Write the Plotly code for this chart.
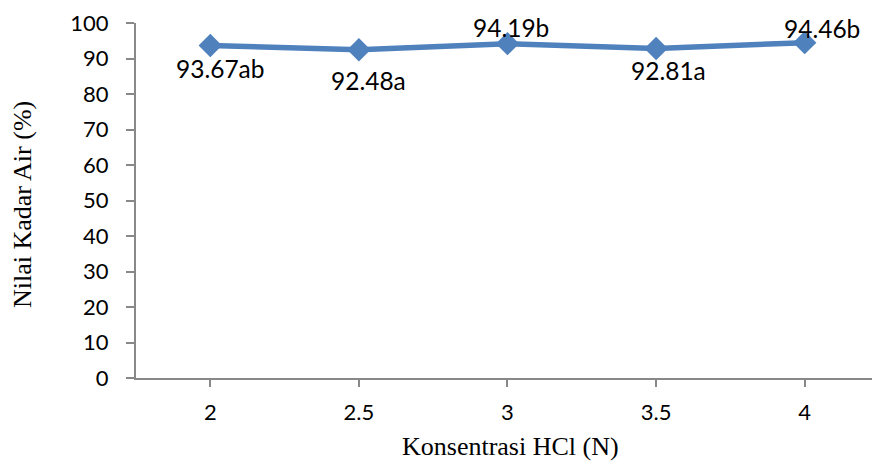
import plotly.graph_objects as go

# Kadar air vs konsentrasi HCl
konsentrasi = ["2", "2.5", "3", "3.5", "4"]
kadar_air = [93.67, 92.48, 94.19, 92.81, 94.46]
notasi = ["ab", "a", "b", "a", "b"]
# label offsets in pixels (x to the right, y upward)
label_dx = [10, 10, 4, 12, 17]
label_dy = [-23, -31, 16, -22, 14]

line_color = "#4F81BD"
axis_color = "#888888"
serif = "Liberation Serif"
sans = "Lato"

fig = go.Figure()
fig.add_trace(go.Scatter(
    x=konsentrasi,
    y=kadar_air,
    mode="lines+markers",
    line=dict(color=line_color, width=5.5),
    marker=dict(symbol="diamond", size=18, color=line_color),
    hoverinfo="x+y",
))

# value labels: numeric category index so they sit on their own point
for i, (yv, n, dx, dy) in enumerate(zip(kadar_air, notasi, label_dx, label_dy)):
    fig.add_annotation(
        x=i, y=yv, text=f"{yv:.2f}{n}",
        showarrow=False, xshift=dx, yshift=dy,
        font=dict(family=sans, size=24.5, color="#000000"),
    )

# axis titles
fig.add_annotation(
    x=0.5095, y=-0.194, xref="paper", yref="paper",
    xanchor="center", yanchor="middle", showarrow=False,
    text="Konsentrasi HCl (N)",
    font=dict(family=serif, size=26, color="#000000"),
)
fig.add_annotation(
    x=-0.155, y=0.49, xref="paper", yref="paper",
    xanchor="center", yanchor="middle", showarrow=False, textangle=-90,
    text="Nilai Kadar Air (%)",
    font=dict(family=serif, size=26, color="#000000"),
)

fig.update_layout(
    width=872, height=461,
    margin=dict(l=136, r=0, t=23, b=83),
    paper_bgcolor="white", plot_bgcolor="white",
    showlegend=False,
    xaxis=dict(
        type="category",
        range=[-0.5, 4.453],
        showline=True, linecolor=axis_color, linewidth=2,
        ticks="outside", ticklen=7, tickcolor=axis_color, tickwidth=2,
        showgrid=False, zeroline=False,
        ticklabelstandoff=7,
        tickfont=dict(family=sans, size=22, color="#000000"),
    ),
    yaxis=dict(
        range=[0, 100], dtick=10,
        showline=True, linecolor=axis_color, linewidth=2,
        ticks="outside", ticklen=8, tickcolor=axis_color, tickwidth=2,
        showgrid=False, zeroline=False,
        ticklabelstandoff=13,
        tickfont=dict(family=sans, size=22, color="#000000"),
    ),
)

fig.write_html("out.html")
